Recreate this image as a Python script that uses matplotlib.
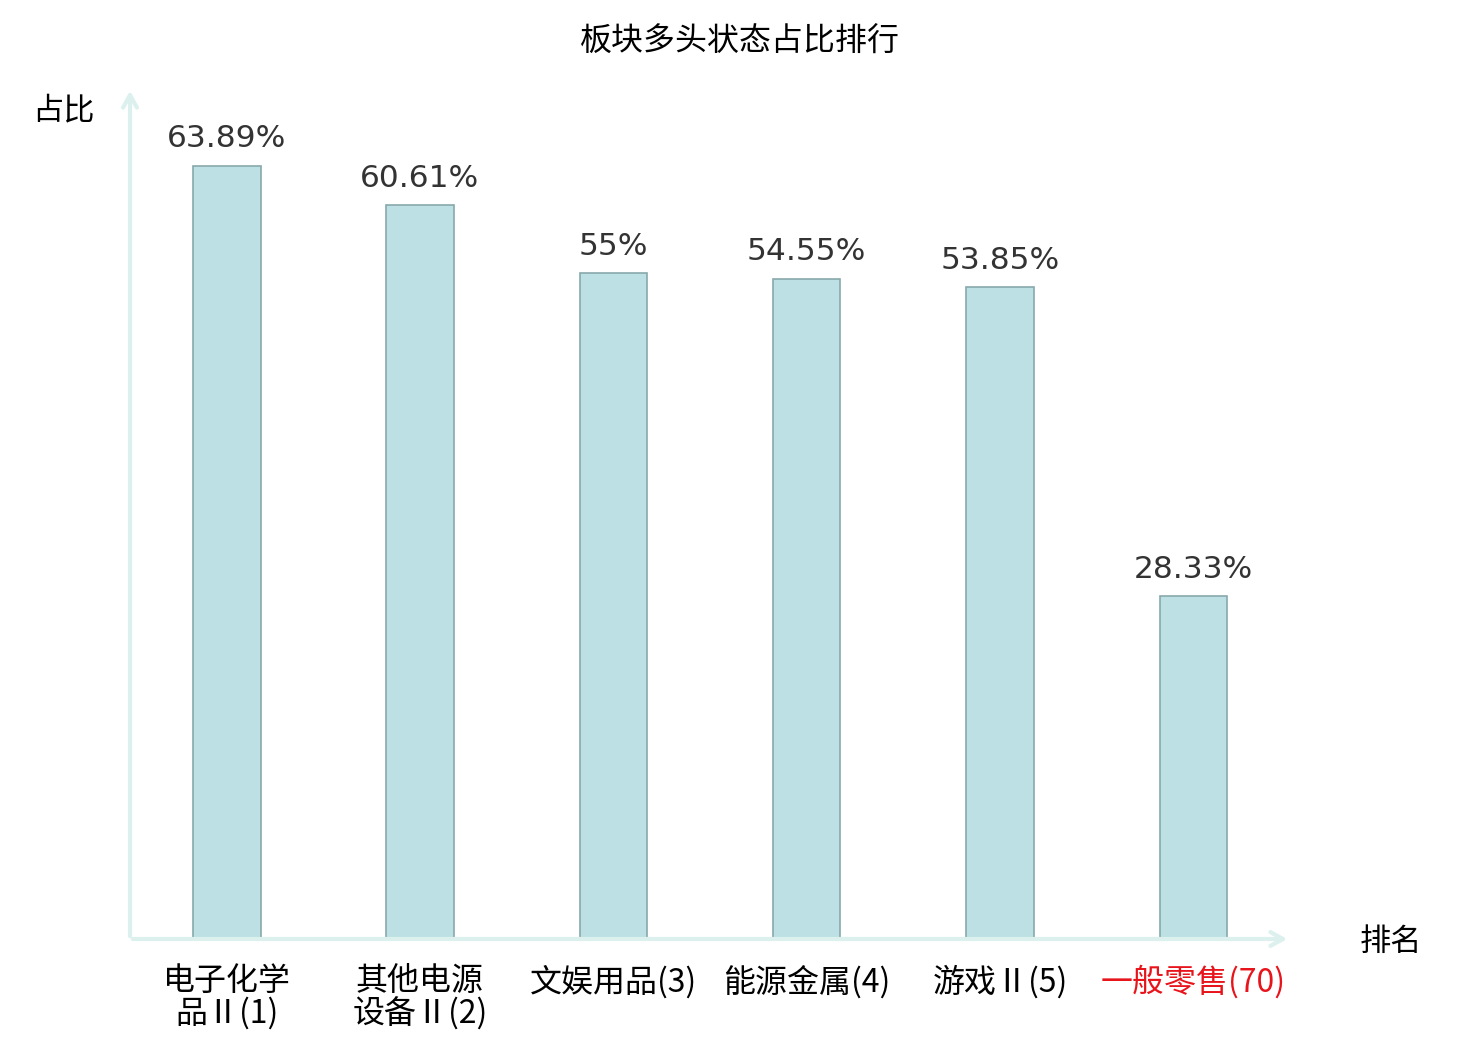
import matplotlib.pyplot as plt

plt.rcParams['font.family'] = ['Noto Sans CJK SC', 'DejaVu Sans']

categories = ['电子化学\n品Ⅱ(1)', '其他电源\n设备Ⅱ(2)', '文娱用品(3)', '能源金属(4)', '游戏Ⅱ(5)', '一般零售(70)']
values = [63.89, 60.61, 55, 54.55, 53.85, 28.33]
value_labels = ['63.89%', '60.61%', '55%', '54.55%', '53.85%', '28.33%']
label_colors = ['black', 'black', 'black', 'black', 'black', '#e8141b']

fig = plt.figure(figsize=(14.8, 10.4), dpi=100)
ax = fig.add_axes([130/1480, 101/1040, 1160/1480, 851/1040])

x = list(range(len(categories)))
ax.bar(x, values, width=0.35, color='#bce0e3', edgecolor='#88a9ab', linewidth=1.2, zorder=2)

for xi, v, s in zip(x, values, value_labels):
    ax.annotate(s, (xi, v), xytext=(0, 9), textcoords='offset points',
                ha='center', va='bottom', fontsize=22.5, color='#333333',
                family='DejaVu Sans')

ax.set_xlim(-0.5, 5.5)
ax.set_ylim(0, 70.3)
for sp in ax.spines.values():
    sp.set_visible(False)
ax.set_yticks([])
ax.set_xticks(x)
ax.set_xticklabels(categories, fontsize=23, linespacing=1.0)
for lab, c in zip(ax.get_xticklabels(), label_colors):
    lab.set_color(c)
    lab.set_multialignment('center')
ax.tick_params(axis='x', length=0, pad=19)

# axis arrows
axis_col = '#dcf1ee'
ax.annotate('', xy=(0, 1.0), xytext=(0, 0), xycoords='axes fraction',
            arrowprops=dict(arrowstyle='->,head_length=0.9,head_width=0.5', color=axis_col, lw=3),
            annotation_clip=False)
ax.annotate('', xy=(1.0, 0), xytext=(0, 0), xycoords='axes fraction',
            arrowprops=dict(arrowstyle='->,head_length=0.9,head_width=0.5', color=axis_col, lw=3),
            annotation_clip=False)

fig.text(740/1480, 1 - 42/1040, '板块多头状态占比排行', ha='center', va='center', fontsize=23)
fig.text(63/1480, 1 - 110/1040, '占比', ha='center', va='center', fontsize=22.5)
fig.text(1391/1480, 1 - 942/1040, '排名', ha='center', va='center', fontsize=22.5)

fig.savefig('out.png', dpi=100)
